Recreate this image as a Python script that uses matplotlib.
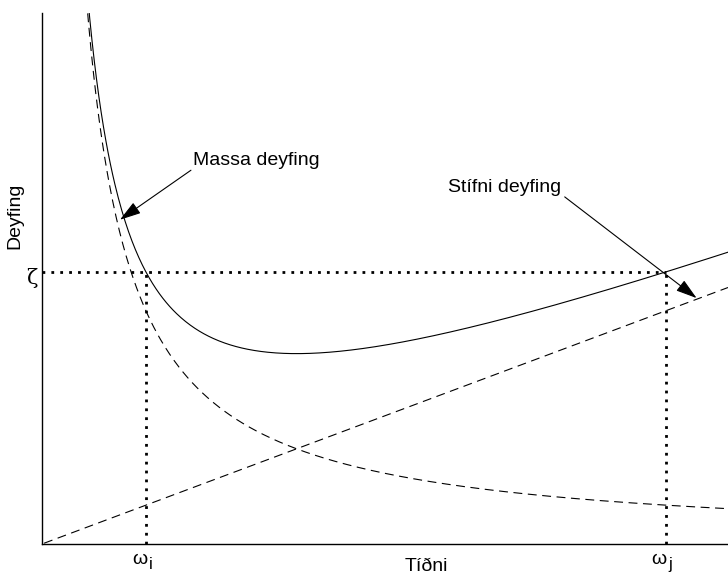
import numpy as np
import matplotlib.pyplot as plt

# Rayleigh damping: zeta(w) = alpha/(2w) + beta*w/2
omega_i = 1.0
omega_j = 6.0
zeta = 0.05
x_max = 6.6
y_max = 0.0976

alpha = 2 * zeta * omega_i * omega_j / (omega_i + omega_j)
beta = 2 * zeta / (omega_i + omega_j)

w = np.linspace(0.02, x_max, 600)
mass = alpha / (2 * w)
stiff = beta * w / 2
total = mass + stiff

plt.rcParams['font.family'] = ['Liberation Sans', 'DejaVu Sans']

fig = plt.figure(figsize=(7.28, 5.76), dpi=100)
ax = fig.add_axes([42 / 728, 32 / 576, 686 / 728, 531 / 576])

ax.plot(w, total, color='black', lw=0.8)
ax.plot(w, mass, color='black', lw=0.8, ls=(0, (8, 5)))
ax.plot(w, stiff, color='black', lw=0.8, ls=(0, (8, 5)))

# dotted guide lines at zeta, omega_i and omega_j
dot = (0, (1, 2.2))
ax.plot([0, omega_j], [zeta, zeta], color='black', lw=2, ls=dot)
ax.plot([omega_i, omega_i], [0, zeta], color='black', lw=2, ls=dot)
ax.plot([omega_j, omega_j], [0, zeta], color='black', lw=2, ls=dot)

ax.set_xlim(0, x_max)
ax.set_ylim(0, y_max)
ax.spines['top'].set_visible(False)
ax.spines['right'].set_visible(False)
for s in ('left', 'bottom'):
    ax.spines[s].set_linewidth(1.0)
ax.set_xticks([])
ax.set_yticks([])

# axis labels: omega with a dropped subscript letter
for xpos, sub in [(omega_i, 'i'), (omega_j, 'j')]:
    ax.text(xpos + 0.01, -0.0036, 'ω', ha='right', va='baseline', fontsize=14)
    ax.text(xpos + 0.03, -0.0046, sub, ha='left', va='baseline', fontsize=12)
ax.text(3.70, -0.0050, 'Tíðni', ha='center', va='baseline', fontsize=14)
ax.text(-0.10, zeta - 0.0012, 'ζ', ha='center', va='center', fontsize=15, family='DejaVu Serif')
fig.text(15 / 728, 1 - 216 / 576, 'Deyfing', rotation=90, ha='center', va='center', fontsize=14)

# annotations with arrows pointing at the two dashed curves
arrow = dict(arrowstyle='-|>,head_length=1.3,head_width=0.4', color='black', lw=0.8,
             shrinkA=0, shrinkB=0)
ax.text(1.452, 0.0697, 'Massa deyfing', fontsize=14, ha='left', va='baseline')
ax.annotate('', xy=(0.75, 0.0596), xytext=(1.433, 0.0687), arrowprops=arrow)
ax.text(3.904, 0.0647, 'Stífni deyfing', fontsize=14, ha='left', va='baseline')
ax.annotate('', xy=(6.298, 0.0452), xytext=(5.029, 0.0638), arrowprops=arrow)

plt.savefig('out.png', dpi=100)
